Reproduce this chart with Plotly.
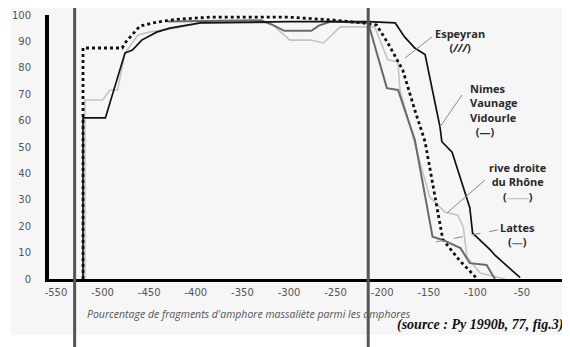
import plotly.graph_objects as go

# ---- data ----
x_ticks = [-550, -500, -450, -400, -350, -300, -250, -200, -150, -100, -50, 0]
x_tick_labels = ["-550", "-500", "-450", "-400", "-350", "-300", "-250", "-200", "-150", "-100", "-50", "0"]
y_ticks = [0, 10, 20, 30, 40, 50, 60, 70, 80, 90, 100]
y_tick_labels = ["0", "10", "20", "30", "40", "50", "60", "70", "80", "90", "100"]

# Espeyran (dotted black)
esp_x = [-521, -521, -479, -476, -460, -442, -422, -385, -301, -253, -221, -206, -194, -178, -165, -154, -135, -117, -104, -98]
esp_y = [0, 87.5, 87.5, 89.4, 95.8, 97.3, 98.3, 99.2, 99.2, 98.1, 97.0, 96.2, 89.4, 79.2, 64.0, 52.0, 15.0, 7.0, 2.3, 0]

# Nimes Vaunage Vidourle (solid black)
nim_x = [-521, -521, -497, -476, -468, -458, -442, -428, -395, -300, -215, -186, -176, -165, -154, -138, -136, -125, -106, -103, -84, -79, -52]
nim_y = [0, 61, 61, 85.6, 86.7, 90.5, 93.5, 95.0, 97.0, 97.5, 97.5, 97.0, 91.7, 87.5, 85.0, 57.6, 52.0, 48.0, 27.0, 17.4, 11.0, 9.0, 0.5]

# rive droite du Rhône (light grey)
rho_x = [-519, -519, -500, -492, -484, -476, -462, -449, -422, -395, -320, -299, -277, -263, -245, -216, -208, -194, -183, -181, -149, -133, -119, -113, -109, -95, -68]
rho_y = [0, 67.8, 67.8, 71.6, 71.6, 85.6, 92.4, 93.6, 95.0, 97.0, 97.0, 90.5, 90.5, 89.4, 95.5, 95.5, 95.5, 83.0, 82.2, 71.6, 31.0, 25.4, 24.2, 19.7, 8.3, 2.3, 0]

# Lattes (dark grey)
lat_x = [-430, -330, -316, -305, -276, -268, -255, -215, -195, -183, -165, -146, -135, -116, -106, -88, -79]
lat_y = [97.5, 98.0, 96.0, 94.0, 94.0, 96.0, 97.5, 97.0, 72.3, 71.6, 52.7, 16.0, 14.8, 11.7, 6.0, 5.3, 0]

# grey vertical marker lines over the scan
marker_years = [-530, -215]

fig = go.Figure()
fig.add_trace(go.Scatter(x=rho_x, y=rho_y, mode="lines", line=dict(color="#c4c4c4", width=1.6), name="rive droite du Rhône"))
fig.add_trace(go.Scatter(x=lat_x, y=lat_y, mode="lines", line=dict(color="#6a6a6a", width=2), name="Lattes"))
fig.add_trace(go.Scatter(x=nim_x, y=nim_y, mode="lines", line=dict(color="#111111", width=1.7), name="Nimes Vaunage Vidourle"))
fig.add_trace(go.Scatter(x=esp_x, y=esp_y, mode="lines", line=dict(color="#111111", width=2.8, dash="dot"), name="Espeyran"))

# background of the scanned page
fig.add_shape(type="rect", xref="paper", yref="paper", x0=-0.073, x1=1.01, y0=-0.212, y1=1.07,
              fillcolor="#f6f6f6", line=dict(width=0), layer="below")

for yr in marker_years:
    fig.add_shape(type="line", xref="x", yref="paper", x0=yr, x1=yr, y0=-0.27, y1=1.07,
                  line=dict(color="#555555", width=3), layer="above")

# pointer lines
ptr = dict(color="#8a8a8a", width=1)
fig.add_shape(type="line", x0=-146.6, y0=91.7, x1=-175.5, y1=83.7, line=ptr)
fig.add_shape(type="line", x0=-114.4, y0=69.7, x1=-138, y1=57.6, line=ptr)
fig.add_shape(type="line", x0=-89.7, y0=37.5, x1=-130.5, y1=25, line=ptr)
fig.add_shape(type="line", x0=-75.8, y0=18.6, x1=-143.3, y1=14, line=dict(color="#8a8a8a", width=1, dash="dash"))

lab_font = dict(family="Open Sans", size=11, color="#2a2a2a", weight="bold")
fig.add_annotation(x=-116.5, y=90.3, text="Espeyran<br>(<i>///</i>)", showarrow=False, font=lab_font, align="center")
fig.add_annotation(x=-108, y=64.2, xanchor="left", text="Nimes<br>Vaunage<br>Vidourle<br>&nbsp;&nbsp;(—)", showarrow=False, font=lab_font, align="left")
fig.add_annotation(x=-54, y=36.6, text="rive droite<br>du Rhône<br>(<span style='color:#c4c4c4'>——</span>)", showarrow=False, font=lab_font, align="center")
fig.add_annotation(x=-55, y=16.9, text="Lattes<br>(<span style='color:#777'>—</span>)", showarrow=False, font=lab_font, align="center")

fig.add_annotation(xref="paper", yref="paper", x=0.384, y=-0.1667,
                   text="Pourcentage de fragments d'amphore massaliète parmi les amphores",
                   showarrow=False, font=dict(family="Open Sans", size=10.5, color="#555555", style="italic"))
fig.add_annotation(xref="paper", yref="paper", x=0.664, y=-0.212, xanchor="left",
                   text="(source : Py 1990b, 77, fig.3)", showarrow=False,
                   font=dict(family="Liberation Serif", size=14, color="#111111", style="italic", weight="bold"))

# the page adds an 8px body margin, so the figure is offset by (8, 8) in the window
fig.update_layout(
    width=562, height=339,
    margin=dict(l=41, r=0, t=7, b=68),
    paper_bgcolor="white", plot_bgcolor="rgba(0,0,0,0)",
    showlegend=False,
    xaxis=dict(range=[-557.5, 1.5], tickvals=x_ticks, ticktext=x_tick_labels, showgrid=False, zeroline=False,
               showline=True, linecolor="black", linewidth=3, ticks="", ticklabelstandoff=2,
               tickfont=dict(family="DejaVu Sans", size=10, color="#555555"), automargin=False),
    yaxis=dict(range=[0, 100], tickvals=y_ticks, ticktext=y_tick_labels, showgrid=False, zeroline=False,
               showline=True, linecolor="black", linewidth=4, ticks="", ticklabelstandoff=12,
               tickfont=dict(family="DejaVu Sans", size=10, color="#555555"), automargin=False),
)

fig.write_html("out.html")
